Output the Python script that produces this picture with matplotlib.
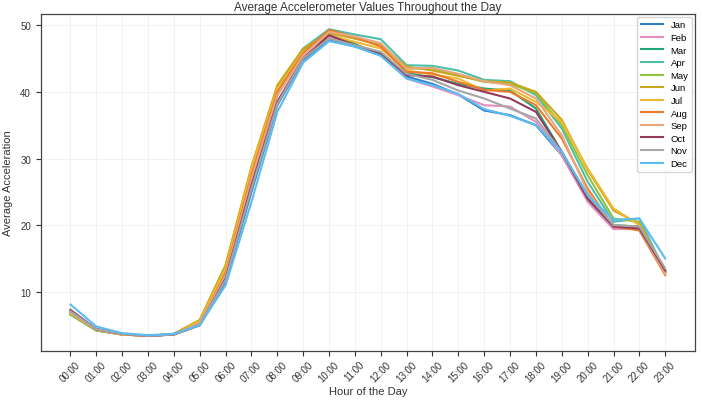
import matplotlib
matplotlib.use("Agg")
import matplotlib.pyplot as plt
import numpy as np

plt.rcParams['font.family'] = ['Liberation Sans', 'DejaVu Sans']

hours = [f"{h:02d}:00" for h in range(24)]
months = ["Jan", "Feb", "Mar", "Apr", "May", "Jun", "Jul", "Aug", "Sep", "Oct", "Nov", "Dec"]

jan = [7.2, 4.4, 3.7, 3.4, 3.6, 5.0, 11.5, 25.0, 38.0, 44.8, 47.8, 46.8, 45.5, 42.3, 41.2, 39.6, 37.2, 36.5, 35.0, 30.5, 23.8, 19.6, 19.8, 13.0]
feb = [7.0, 4.3, 3.6, 3.4, 3.6, 5.1, 12.0, 26.0, 38.5, 45.2, 48.2, 47.0, 45.8, 42.0, 40.8, 39.5, 38.0, 37.8, 35.5, 30.5, 23.5, 19.4, 19.5, 12.8]
mar = [6.6, 4.2, 3.6, 3.4, 3.6, 5.3, 13.0, 27.5, 39.5, 46.0, 48.6, 47.2, 45.5, 42.8, 42.2, 41.2, 40.5, 40.2, 37.5, 31.0, 24.0, 20.0, 19.8, 13.0]
apr = [6.7, 4.2, 3.6, 3.4, 3.6, 5.5, 13.5, 28.0, 40.5, 46.5, 49.4, 48.6, 47.9, 44.0, 43.9, 43.2, 41.8, 41.6, 39.5, 34.5, 26.5, 20.5, 21.0, 13.0]
may = [6.6, 4.2, 3.6, 3.4, 3.7, 5.7, 14.0, 28.5, 40.8, 46.3, 49.0, 48.0, 47.2, 43.5, 43.5, 42.5, 41.5, 41.2, 39.8, 35.0, 27.5, 21.0, 20.5, 13.0]
jun = [6.8, 4.3, 3.6, 3.4, 3.7, 5.8, 14.0, 28.8, 41.0, 46.5, 48.8, 48.0, 47.0, 43.8, 43.2, 42.4, 41.6, 41.4, 40.0, 35.8, 28.3, 22.2, 20.2, 13.0]
jul = [6.9, 4.3, 3.6, 3.4, 3.6, 5.6, 13.5, 28.5, 40.5, 46.0, 48.5, 47.5, 46.5, 43.2, 42.6, 42.0, 40.2, 40.5, 38.5, 35.5, 28.5, 22.5, 20.0, 12.8]
aug = [7.0, 4.3, 3.6, 3.4, 3.6, 5.2, 12.8, 27.5, 40.0, 45.8, 49.3, 48.2, 46.8, 43.0, 42.8, 41.5, 40.3, 40.0, 38.0, 33.0, 25.5, 19.8, 19.2, 12.5]
sep = [6.9, 4.3, 3.6, 3.4, 3.6, 5.3, 12.5, 27.0, 39.5, 45.5, 49.0, 48.3, 47.3, 43.5, 43.6, 42.7, 41.6, 41.0, 39.0, 33.5, 25.0, 20.0, 19.5, 12.7]
oct_ = [7.3, 4.4, 3.7, 3.4, 3.6, 5.0, 12.0, 26.0, 38.5, 45.0, 48.5, 47.0, 45.8, 42.5, 42.3, 41.0, 40.0, 39.0, 37.0, 31.0, 24.0, 19.8, 19.5, 13.2]
nov = [7.1, 4.4, 3.7, 3.4, 3.6, 5.1, 11.8, 25.5, 38.2, 45.0, 48.0, 47.0, 46.0, 42.7, 41.8, 40.2, 39.0, 37.5, 36.0, 31.0, 24.5, 20.0, 19.8, 13.5]
dec = [8.1, 4.8, 3.8, 3.5, 3.7, 5.0, 11.0, 23.5, 37.0, 44.4, 47.6, 46.8, 45.4, 42.0, 41.0, 39.7, 37.4, 36.4, 35.0, 31.0, 24.5, 20.8, 21.0, 15.0]

series = [jan, feb, mar, apr, may, jun, jul, aug, sep, oct_, nov, dec]
colors = ['#2f7fc4', '#e58fc0', '#1fa67a', '#4cbfaa', '#8ec43f', '#c9a61f',
          '#f2b830', '#ec7a2c', '#e8a77c', '#923a5c', '#a5a5a5', '#5bbcf2']

fig = plt.figure(figsize=(7.02, 4.02), dpi=100)
ax = fig.add_axes([0.058, 0.124, 0.932, 0.839])

for name, vals, c in zip(months, series, colors):
    ax.plot(hours, vals, color=c, lw=1.5, label=name)

ax.grid(True, color='#f0f0f0', lw=0.6)
ax.set_title("Average Accelerometer Values Throughout the Day", fontsize=8.5, color='#333333', pad=3)
ax.set_xlabel("Hour of the Day", fontsize=8, color='#333333', labelpad=2)
ax.set_ylabel("Average Acceleration", fontsize=8, color='#333333', labelpad=5)
ax.set_yticks([10, 20, 30, 40, 50])
ax.tick_params(axis='both', labelsize=7, colors='#333333', length=3.5)
ax.tick_params(axis='x', pad=2)
plt.setp(ax.get_xticklabels(), rotation=45)
for s in ax.spines.values():
    s.set_color('#444444')
    s.set_linewidth(0.9)
leg = ax.legend(loc='upper right', fontsize=6.8, frameon=True, handlelength=2.3,
                labelspacing=0.38, borderaxespad=0.3, handletextpad=0.8)
leg.get_frame().set_edgecolor('#cccccc')

fig.savefig("out.png", dpi=100)
